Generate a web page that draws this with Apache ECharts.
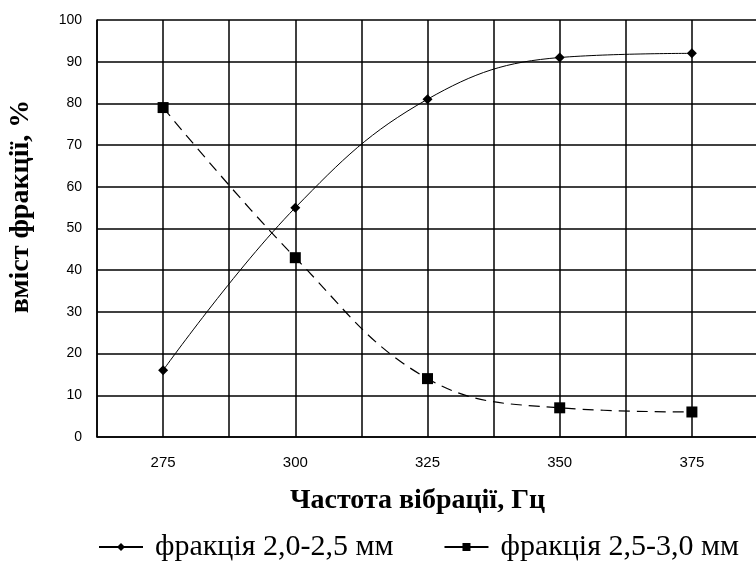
<!DOCTYPE html>
<html>
<head>
<meta charset="utf-8">
<script src="https://cdn.jsdelivr.net/npm/echarts@6/dist/echarts.min.js"></script>
<style>
  html, body { margin: 0; padding: 0; background: #fff; }
  #chart01 { width: 756px; height: 579px; }
</style>
</head>
<body>
<div id="chart01"></div>
<script>
    // частота вібрації, Гц
    var frequencies = [275, 300, 325, 350, 375];
    var tickLabels = [275, 300, 325, 350, 375];
    // вміст фракцій, %
    var fraction20_25 = [16, 55, 81, 91, 92];
    var fraction25_30 = [79, 43, 14, 7, 6];
    var seriesNames = ["фракція 2,0-2,5 мм", "фракція 2,5-3,0 мм"];

    function pairs(xs, ys) {
        return xs.map(function (x, i) { return [x, ys[i]]; });
    }

    var myChart01 = echarts.init(document.getElementById('chart01'));
    var option = {
    animation: false,
    backgroundColor: "#fff",
    grid: {
        left: 97,
        top: 20,
        right: -2,
        bottom: 142,
        containLabel: false,
        outerBoundsMode: "none"
    },
    legend: {
        data: seriesNames,
        left: 93,
        top: 527,
        itemWidth: 44,
        itemHeight: 10,
        itemGap: 50,
        lineStyle: { type: "solid", width: 2, color: "#000" },
        textStyle: {
            fontFamily: "Liberation Serif",
            fontSize: 30,
            color: "#000",
            padding: [0, 0, 0, 7]
        }
    },
    xAxis: {
        type: "value",
        min: 262.5,
        max: 387.5,
        interval: 12.5,
        name: "Частота вібрації, Гц",
        nameLocation: "middle",
        nameGap: 50,
        nameTextStyle: {
            fontFamily: "Liberation Serif",
            fontWeight: "bold",
            fontSize: 28,
            color: "#000",
            padding: [0, 20, 0, 0]
        },
        axisLine: { lineStyle: { color: "#000", width: 1.5 } },
        axisTick: { show: false },
        splitLine: { lineStyle: { color: "#000", width: 1.5 } },
        axisLabel: {
            margin: 18,
            fontFamily: "Arial",
            fontSize: 15,
            color: "#000",
            showMinLabel: true,
            showMaxLabel: true,
            formatter: function (v) {
                return tickLabels.indexOf(v) >= 0 ? String(v) : "";
            }
        }
    },
    yAxis: {
        type: "value",
        min: 0,
        max: 100,
        interval: 10,
        name: "вміст фракції, %",
        nameLocation: "middle",
        nameGap: 62,
        nameRotate: 90,
        nameTextStyle: {
            fontFamily: "Liberation Serif",
            fontWeight: "bold",
            fontSize: 28,
            color: "#000",
            padding: [0, 0, 0, 44]
        },
        axisLine: { show: true, lineStyle: { color: "#000", width: 1.5 } },
        axisTick: { show: false },
        splitLine: { lineStyle: { color: "#000", width: 1.5 } },
        axisLabel: {
            margin: 15,
            fontFamily: "Arial",
            fontSize: 14,
            color: "#000"
        }
    },
    series: [
        {
            name: seriesNames[0],
            type: "line",
            data: pairs(frequencies, fraction20_25),
            smooth: 0.4,
            symbol: "diamond",
            symbolSize: 10,
            itemStyle: { color: "#000" },
            lineStyle: { color: "#000", width: 1 }
        },
        {
            name: seriesNames[1],
            type: "line",
            data: pairs(frequencies, fraction25_30),
            smooth: 0.4,
            symbol: "rect",
            symbolSize: 11,
            itemStyle: { color: "#000" },
            lineStyle: { color: "#000", width: 1.2, type: [11, 7] }
        }
    ]
};
    myChart01.setOption(option);
</script>
</body>
</html>
